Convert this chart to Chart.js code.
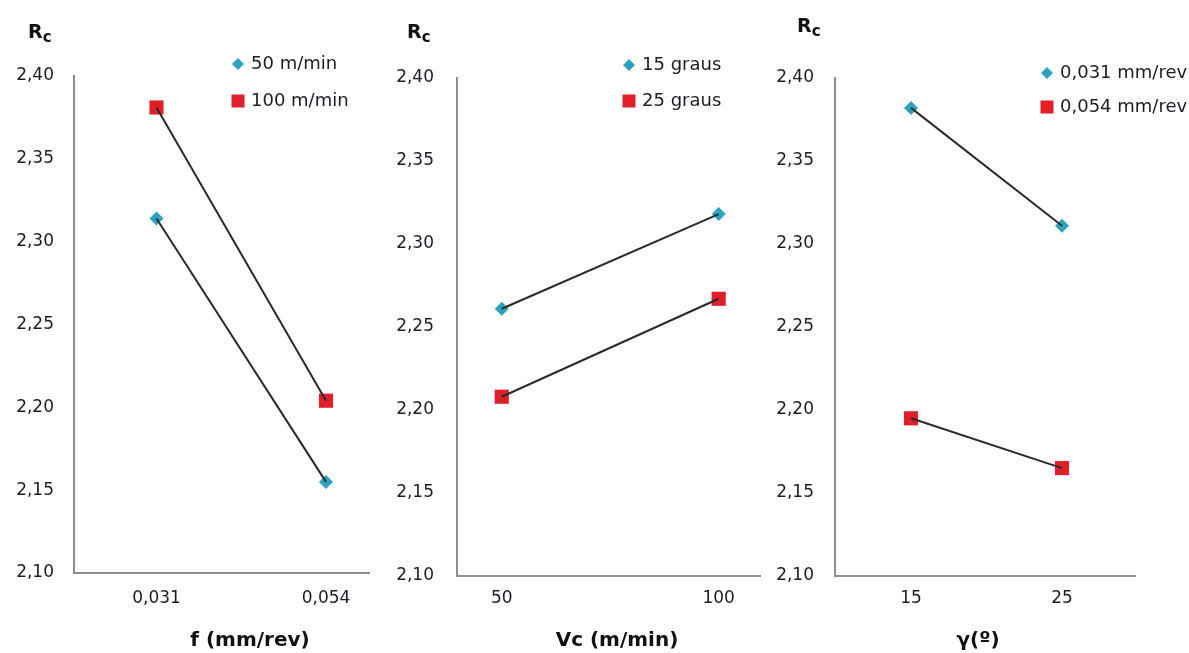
<!DOCTYPE html>
<html>
<head>
<meta charset="utf-8">
<script src="https://cdn.jsdelivr.net/npm/chart.js@4.4.1/dist/chart.umd.min.js"></script>
<style>
    body { margin: 0; background: #fff; width: 1189px; height: 653px; position: relative; overflow: hidden; }
    canvas { position: absolute; top: 0; }
</style>
</head>
<body>
<canvas id="p1" width="380" height="653" style="left:0"></canvas>
<canvas id="p2" width="390" height="653" style="left:380px"></canvas>
<canvas id="p3" width="419" height="653" style="left:770px"></canvas>
<script>
// Rc values
const rcTicks = [2.10, 2.15, 2.20, 2.25, 2.30, 2.35, 2.40];

const fCats = ['0,031', '0,054'];
const fLabels = ['50 m/min', '100 m/min'];
const f50 = [2.314, 2.155];
const f100 = [2.381, 2.204];

const vcCats = ['50', '100'];
const vcLabels = ['15 graus', '25 graus'];
const vc15 = [2.261, 2.318];
const vc25 = [2.208, 2.267];

const gCats = ['15', '25'];
const gLabels = ['0,031 mm/rev', '0,054 mm/rev'];
const g031 = [2.382, 2.311];
const g054 = [2.195, 2.165];

const BLUE = '#2ea3bf', RED = '#e11f2b', LINE = '#2a2a2a', AXIS = '#8e8e8e', TXT = '#1c1c28';
const FONT = 'DejaVu Sans';
const STYLES = [
    { pointStyle: 'rectRot', radius: 7, color: BLUE },
    { pointStyle: 'rect', radius: 10, color: RED },
];

function fmt(v) { return v.toFixed(2).replace('.', ','); }

// draws Rc title, legend and x title for one panel
const decor = {
    id: 'decor',
    afterDraw(chart, args, o) {
        const ctx = chart.ctx;
        ctx.save();
        ctx.fillStyle = '#111';
        ctx.textBaseline = 'alphabetic';
        ctx.textAlign = 'left';
        ctx.font = `bold 19px "${FONT}"`;
        ctx.fillText('R', o.rc[0], o.rc[1]);
        const rw = ctx.measureText('R').width;
        ctx.font = `bold 15px "${FONT}"`;
        ctx.fillText('c', o.rc[0] + rw, o.rc[1] + 3.5);

        o.legend.forEach((label, i) => {
            const y = o.legendY[i];
            const st = STYLES[i];
            ctx.fillStyle = st.color;
            if (st.pointStyle === 'rect') {
                ctx.fillRect(o.legendX - 6.5, y - 6.5, 13, 13);
            } else {
                ctx.beginPath();
                ctx.moveTo(o.legendX - 6, y); ctx.lineTo(o.legendX, y - 6);
                ctx.lineTo(o.legendX + 6, y); ctx.lineTo(o.legendX, y + 6);
                ctx.closePath(); ctx.fill();
            }
            ctx.fillStyle = TXT;
            ctx.font = `18px "${FONT}"`;
            ctx.textBaseline = 'middle';
            ctx.fillText(label, o.legendX + 13, y);
        });

        ctx.fillStyle = '#111';
        ctx.font = `bold 20px "${FONT}"`;
        ctx.textAlign = 'center';
        ctx.textBaseline = 'middle';
        ctx.fillText(o.xTitle, o.xTitleX, 641);
        ctx.restore();
    },
};

function panel(id, cats, labels, series, xTitle, L) {
    const unit = L.pts[1] - L.pts[0];
    const xMin = 1 - (L.pts[0] - L.axisLeft) / unit;
    const xMax = 2 + (L.axisRight - L.pts[1]) / unit;
    const datasets = [];
    series.forEach((data, i) => {
        const pts = data.map((v, k) => ({ x: k + 1, y: v }));
        datasets.push({
            data: pts, showLine: false, order: 1,
            pointStyle: STYLES[i].pointStyle, pointRadius: STYLES[i].radius,
            pointBackgroundColor: STYLES[i].color, pointBorderWidth: 0,
        });
        datasets.push({
            data: pts, showLine: true, order: 0, pointRadius: 0,
            borderColor: LINE, borderWidth: 2, fill: false,
        });
    });
    const canvas = document.getElementById(id);
    new Chart(canvas, {
        type: 'line',
        data: { datasets },
        options: {
            responsive: false,
            animation: false,
            events: [],
            layout: { padding: { top: L.axisTop, right: canvas.width - L.axisRight, left: 0, bottom: 0 } },
            plugins: {
                legend: { display: false },
                tooltip: { enabled: false },
                decor: { rc: L.rc, legend: labels, legendX: L.legendX, legendY: L.legendY, xTitle, xTitleX: L.xTitleX },
            },
            scales: {
                x: {
                    type: 'linear', min: xMin, max: xMax,
                    afterBuildTicks: (s) => { s.ticks = cats.map((c, k) => ({ value: k + 1 })); },
                    afterFit: (s) => { s.height = canvas.height - L.axisBottom; },
                    grid: { display: false, drawTicks: false },
                    border: { color: AXIS, width: 2 },
                    ticks: { padding: L.xPad, color: TXT, font: { family: FONT, size: 17 }, callback: (v) => cats[Math.round(v) - 1] },
                },
                y: {
                    min: 2.10, max: 2.40,
                    afterBuildTicks: (s) => { s.ticks = rcTicks.map((v) => ({ value: v })); },
                    afterFit: (s) => { s.width = L.axisLeft; },
                    grid: { display: false, drawTicks: false },
                    border: { color: AXIS, width: 2 },
                    ticks: { padding: L.yPad, color: TXT, font: { family: FONT, size: 17 }, callback: (v) => fmt(v) },
                },
            },
        },
        plugins: [decor],
    });
}

panel('p1', fCats, fLabels, [f50, f100], 'f (mm/rev)', {
    axisLeft: 74, axisRight: 369, axisTop: 76, axisBottom: 573, pts: [156.5, 326],
    yPad: 20, xPad: 15, rc: [28, 38], legendX: 238, legendY: [64, 101], xTitleX: 250,
});
panel('p2', vcCats, vcLabels, [vc15, vc25], 'Vc (m/min)', {
    axisLeft: 77, axisRight: 385, axisTop: 78, axisBottom: 576, pts: [122.5, 343],
    yPad: 23, xPad: 12, rc: [27, 38], legendX: 249, legendY: [65, 101], xTitleX: 237,
});
panel('p3', gCats, gLabels, [g031, g054], 'γ(º)', {
    axisLeft: 65, axisRight: 365, axisTop: 78, axisBottom: 576, pts: [141, 292],
    yPad: 21, xPad: 12, rc: [27, 32], legendX: 277, legendY: [73, 107], xTitleX: 208,
});
</script>
</body>
</html>
